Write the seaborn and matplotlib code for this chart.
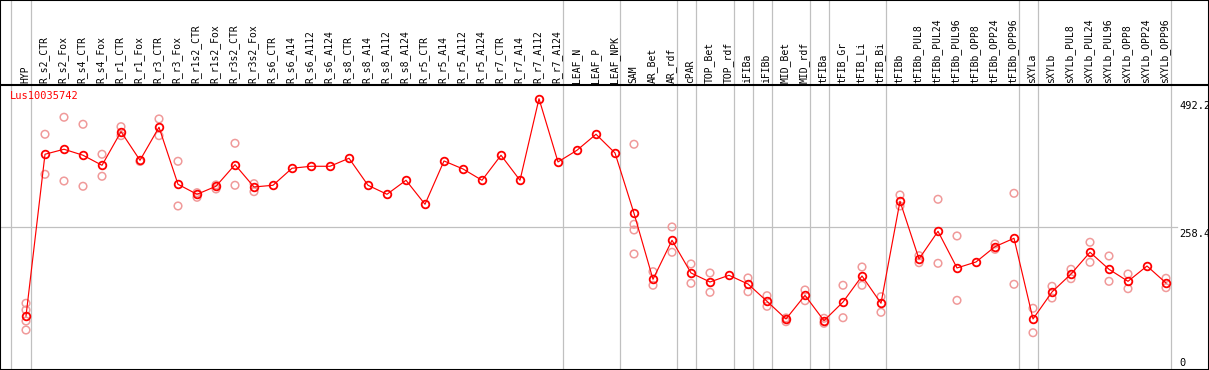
import matplotlib
matplotlib.use("Agg")
import matplotlib.pyplot as plt
import seaborn as sns
import pandas as pd

# categorias (eje x) en orden
categorias = ['HYP', 'R_s2_CTR', 'R_s2_Fox', 'R_s4_CTR', 'R_s4_Fox', 'R_r1_CTR', 'R_r1_Fox',
              'R_r3_CTR', 'R_r3_Fox', 'R_r1s2_CTR', 'R_r1s2_Fox', 'R_r3s2_CTR', 'R_r3s2_Fox',
              'R_s6_CTR', 'R_s6_A14', 'R_s6_A112', 'R_s6_A124', 'R_s8_CTR', 'R_s8_A14',
              'R_s8_A112', 'R_s8_A124', 'R_r5_CTR', 'R_r5_A14', 'R_r5_A112', 'R_r5_A124',
              'R_r7_CTR', 'R_r7_A14', 'R_r7_A112', 'R_r7_A124', 'LEAF_N', 'LEAF_P', 'LEAF_NPK',
              'SAM', 'AR_Bet', 'AR_rdf', 'cPAR', 'TOP_Bet', 'TOP_rdf', 'iFIBa', 'iFIBb',
              'MID_Bet', 'MID_rdf', 'tFIBa', 'tFIB_Gr', 'tFIB_Li', 'tFIB_Bi', 'tFIBb',
              'tFIBb_PUL8', 'tFIBb_PUL24', 'tFIBb_PUL96', 'tFIBb_OPP8', 'tFIBb_OPP24',
              'tFIBb_OPP96', 'sXYLa', 'sXYLb', 'sXYLb_PUL8', 'sXYLb_PUL24', 'sXYLb_PUL96',
              'sXYLb_OPP8', 'sXYLb_OPP24', 'sXYLb_OPP96']

# media de expresion por categoria
medias = [96.5, 391.1, 400.2, 389.3, 371.0, 432.2, 380.1, 440.3, 336.4, 318.2, 332.8, 372.1,
          331.5, 334.6, 365.6, 369.2, 369.2, 383.8, 334.6, 318.2, 343.7, 300.0, 378.9, 364.3,
          343.7, 389.3, 343.7, 492.2, 377.1, 398.4, 427.5, 393.4, 283.6, 163.4, 234.4, 174.9,
          158.5, 170.7, 154.8, 123.3, 91.1, 134.2, 88.0, 122.0, 169.4, 119.7, 305.5, 200.4,
          250.8, 184.0, 194.9, 222.8, 238.1, 91.1, 140.3, 173.0, 212.6, 181.6, 159.7, 187.6,
          156.6]

# replicas (puntos claros)
rep_cat = ['HYP', 'HYP', 'HYP', 'HYP', 'R_s2_CTR', 'R_s2_CTR', 'R_s2_Fox', 'R_s2_Fox',
           'R_s4_CTR', 'R_s4_CTR', 'R_s4_Fox', 'R_s4_Fox', 'R_r1_CTR', 'R_r1_CTR', 'R_r1_Fox',
           'R_r3_CTR', 'R_r3_CTR', 'R_r3_Fox', 'R_r3_Fox', 'R_r1s2_CTR', 'R_r1s2_CTR',
           'R_r1s2_Fox', 'R_r1s2_Fox', 'R_r3s2_CTR', 'R_r3s2_CTR', 'R_r3s2_Fox', 'R_r3s2_Fox',
           'SAM', 'SAM', 'SAM', 'SAM', 'AR_Bet', 'AR_Bet', 'AR_rdf', 'AR_rdf', 'cPAR', 'cPAR',
           'TOP_Bet', 'TOP_Bet', 'iFIBa', 'iFIBa', 'iFIBb', 'iFIBb', 'MID_Bet', 'MID_Bet',
           'MID_rdf', 'MID_rdf', 'tFIBa', 'tFIBa', 'tFIB_Gr', 'tFIB_Gr', 'tFIB_Li', 'tFIB_Li',
           'tFIB_Bi', 'tFIB_Bi', 'tFIBb', 'tFIBb', 'tFIBb_PUL8', 'tFIBb_PUL8', 'tFIBb_PUL24',
           'tFIBb_PUL24', 'tFIBb_PUL96', 'tFIBb_PUL96', 'tFIBb_OPP24', 'tFIBb_OPP24',
           'tFIBb_OPP96', 'tFIBb_OPP96', 'sXYLa', 'sXYLa', 'sXYLb', 'sXYLb', 'sXYLb_PUL8',
           'sXYLb_PUL8', 'sXYLb_PUL24', 'sXYLb_PUL24', 'sXYLb_PUL96', 'sXYLb_PUL96',
           'sXYLb_OPP8', 'sXYLb_OPP8', 'sXYLb_OPP96', 'sXYLb_OPP96']
rep_val = [119.7, 107.5, 87.4, 71.0, 427.5, 354.6, 458.5, 342.4,
           445.7, 332.8, 391.1, 351.0, 441.3, 425.0, 378.0,
           455.4, 425.0, 378.3, 296.9, 321.1, 312.7,
           335.2, 327.9, 411.1, 334.6, 337.5, 323.0,
           409.3, 263.6, 253.2, 209.5, 177.2, 152.5, 258.7, 212.6, 191.3, 156.1,
           174.9, 139.7, 165.8, 140.8, 133.5, 114.2, 86.2, 93.0,
           143.9, 124.4, 92.4, 83.2, 152.5, 93.4, 185.8, 152.5,
           131.7, 103.3, 316.9, 296.9, 206.4, 193.6, 309.1,
           192.5, 242.3, 125.1, 227.7, 218.0,
           320.0, 154.3, 110.6, 66.1, 150.6, 129.3, 181.6,
           164.5, 230.8, 194.4, 205.8, 159.7,
           173.0, 146.3, 165.2, 148.1]

# limites de grupo (linea gris despues de estas categorias)
grupos_fin = ['HYP', 'R_r7_A124', 'LEAF_NPK', 'AR_rdf', 'cPAR', 'TOP_rdf', 'iFIBa', 'iFIBb',
              'MID_rdf', 'tFIBa', 'tFIB_Bi', 'tFIBb_OPP96', 'sXYLa', 'sXYLb_OPP96']

gen = 'Lus10035742'
marcas_y = [492.2, 258.4]

pos = {c: i for i, c in enumerate(categorias)}
df_media = pd.DataFrame({'cat': categorias, 'valor': medias})
df_media['x'] = df_media['cat'].map(pos)
df_rep = pd.DataFrame({'cat': rep_cat, 'valor': rep_val})
df_rep['x'] = df_rep['cat'].map(pos)

fuente = 'DejaVu Sans Mono'

fig = plt.figure(figsize=(12.09, 3.70), dpi=100)
ax = fig.add_axes([0, 0, 1, 1])
ax.set_xlim(-26 / 19, (1209 - 26) / 19)
ax.set_ylim(-1.8, 672)

# lineas de grupo verticales
ax.axvline(-0.79, color='#c0c0c0', lw=0.9, zorder=0)
for c in grupos_fin:
    ax.axvline(pos[c] + 0.25, color='#c0c0c0', lw=0.9, zorder=0)

# linea horizontal de referencia
ax.axhline(marcas_y[1], xmin=0, xmax=1177 / 1209, color='#c0c0c0', lw=0.9, zorder=0)

# separador de cabecera
ax.axhline(517.3, color='black', lw=1.5, zorder=1)

# replicas
sns.scatterplot(data=df_rep, x='x', y='valor', ax=ax, marker='o', s=30,
                facecolors='none', edgecolors='#f09a9a', linewidths=1.1, zorder=2)

# medias
sns.lineplot(data=df_media, x='x', y='valor', ax=ax, color='red', lw=0.85,
             marker='o', markersize=5.5, markerfacecolor='none',
             markeredgecolor='red', markeredgewidth=1.3, zorder=3)

# etiquetas de cabecera
trans = ax.get_xaxis_transform()
for c in categorias:
    ax.text(pos[c] - 0.05, 1 - 83 / 370, c, rotation=90, ha='center', va='bottom',
            fontsize=7, family=fuente, transform=trans)

ax.text(10 / 1209, 1 - 91 / 370, gen, color='red', fontsize=7.5, family=fuente,
        ha='left', va='top', transform=ax.transAxes)

# etiquetas del eje derecho
for v in marcas_y:
    ax.text(1179 / 1209, v - 4, f'{v}', fontsize=7.5, family=fuente, ha='left', va='top',
            transform=ax.get_yaxis_transform())
ax.text(1179 / 1209, 2, '0', fontsize=7.5, family=fuente, ha='left', va='bottom',
        transform=ax.get_yaxis_transform())

ax.set_xticks([])
ax.set_yticks([])
ax.set_xlabel('')
ax.set_ylabel('')
for s in ax.spines.values():
    s.set_color('black')
    s.set_linewidth(1.5)

fig.savefig('out.png', dpi=100)
